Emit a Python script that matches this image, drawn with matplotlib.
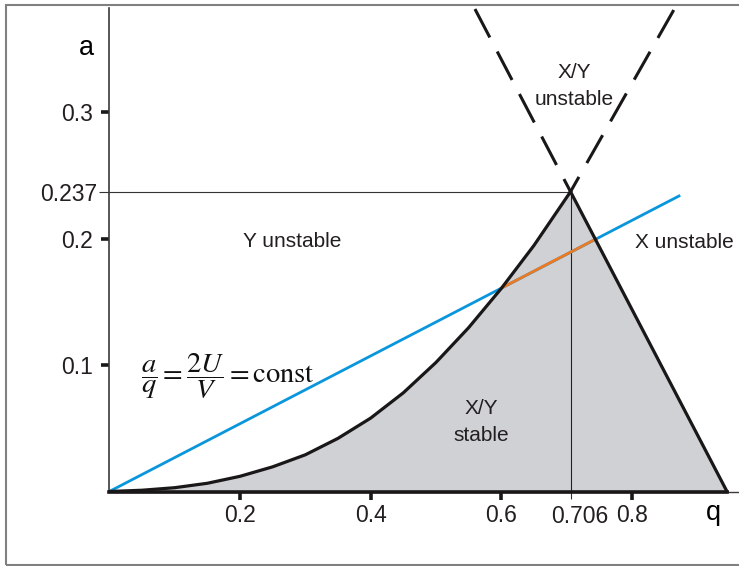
import matplotlib
matplotlib.use("Agg")
import matplotlib.pyplot as plt
from matplotlib.patches import Rectangle
from matplotlib.transforms import ScaledTranslation

plt.rcParams["font.family"] = ["Liberation Sans", "DejaVu Sans"]
plt.rcParams["text.color"] = "#231f20"

# lower boundary of the stability region (q, a), origin up to the apex
curve_q = [0.0, 0.05, 0.10, 0.15, 0.20, 0.25, 0.30, 0.35, 0.40,
           0.45, 0.50, 0.55, 0.60, 0.65, 0.706]
curve_a = [0.0, 0.001, 0.003, 0.0065, 0.012, 0.0195, 0.029, 0.042, 0.058,
           0.078, 0.102, 0.1295, 0.1605, 0.1945, 0.237]
apex_q, apex_a = 0.706, 0.237
q_end = 0.9455  # right boundary meets a = 0

# dashed continuations above the apex
dash_left_q = [0.5597, apex_q]
dash_left_a = [0.3814, apex_a]
dash_right_q = [0.864, apex_q]
dash_right_a = [0.3806, apex_a]

# operating line a/q = const, and the part inside the stable region
line_q = [0.0, 0.872]
line_a = [0.0, 0.2336]
stable_q = [0.600, 0.744]
stable_a = [0.1608, 0.1994]

xticks = [0.2, 0.4, 0.6, 0.8]
yticks = [0.1, 0.2, 0.3]

fig = plt.figure(figsize=(7.39, 5.66), dpi=100)
W, H = 739, 566
x0, y0 = 109.3, 491.5
sx, sy = 653.3, 1265.0
xmax, ymax = 0.963, 0.382
ax = fig.add_axes([x0 / W, (H - y0) / H, xmax * sx / W, ymax * sy / H])
ax.set_xlim(0, xmax)
ax.set_ylim(0, ymax)

# frame around the figure
fig.add_artist(Rectangle((6 / W, 1 - 565 / H), 1.2, (565 - 5) / H,
                         transform=fig.transFigure, fill=False,
                         ec="#808080", lw=1.5))

for s in ["top", "right"]:
    ax.spines[s].set_visible(False)
ax.spines["left"].set_color("#3a3a3a")
ax.spines["left"].set_linewidth(1.2)
ax.spines["bottom"].set_color("#3a3a3a")
ax.spines["bottom"].set_linewidth(1.0)

black = "#1a1718"
region_q = curve_q + [q_end]
region_a = curve_a + [0.0]
ax.fill(region_q, region_a, color="#d0d1d5", lw=0, zorder=1)
ax.plot(curve_q, curve_a, color=black, lw=2.3, zorder=4,
        solid_joinstyle="round")
ax.plot([apex_q, q_end], [apex_a, 0.0], color=black, lw=2.3, zorder=4)
ax.plot([0.0, q_end], [0.0, 0.0], color=black, lw=2.6, zorder=4, clip_on=False)

ax.plot(dash_left_q, dash_left_a, color=black, lw=2.2,
        linestyle=(0, (10.5, 5.2)), zorder=4)
ax.plot(dash_right_q, dash_right_a, color=black, lw=2.2,
        linestyle=(0, (10.5, 5.2)), zorder=4)

# guide lines to the apex
ax.plot([0.0, apex_q], [apex_a, apex_a], color="#333", lw=0.8, zorder=2)
ax.plot([apex_q, apex_q], [0.0, apex_a], color="#222", lw=0.8, zorder=2)

ax.plot(line_q, line_a, color="#0a96dc", lw=2.0, zorder=3)
ax.plot(stable_q, stable_a, color="#ec7a22", lw=2.0, zorder=3)

fs_tick = 16.5
fs = 15
ax.set_xticks(xticks, [f"{v:g}" for v in xticks])
ax.set_yticks(yticks, [f"{v:g}" for v in yticks])
ax.set_xticks([apex_q], ["0.706"], minor=True)
ax.set_yticks([apex_a], ["0.237"], minor=True)
ax.tick_params(which="major", length=5.8, width=2.6, color=black,
               labelsize=fs_tick, labelcolor="#231f20")
ax.tick_params(axis="x", which="major", pad=3)
ax.tick_params(axis="y", which="major", pad=6)
ax.tick_params(which="minor", length=5, width=0.8, color="#333",
               labelsize=fs_tick, labelcolor="#231f20")
ax.tick_params(axis="x", which="minor", pad=5)
ax.tick_params(axis="y", which="minor", pad=2, length=7)
for lab in ax.get_xticklabels(minor=True):
    lab.set_transform(lab.get_transform() + ScaledTranslation(6.5 / 72, 0, fig.dpi_scale_trans))

ax.set_ylabel("a", rotation=0, fontsize=19.5, ha="center", va="center")
ax.yaxis.set_label_coords(-0.037, 0.918)
ax.set_xlabel("q", fontsize=19.5, ha="center", va="center")
ax.xaxis.set_label_coords(0.961, -0.045)

ax.text(0.2797, 0.198, "Y unstable", fontsize=fs, ha="center", va="center")
ax.text(0.881, 0.197, "X unstable", fontsize=fs, ha="center", va="center")
ax.text(0.711, 0.3206, "X/Y\nunstable", fontsize=fs, ha="center", va="center",
        linespacing=1.55)
ax.text(0.569, 0.0549, "X/Y\nstable", fontsize=fs, ha="center", va="center",
        linespacing=1.55)
ax.text(0.181, 0.0913, r"$\dfrac{a}{q} = \dfrac{2U}{V} = \mathrm{const}$",
        fontsize=20.5, ha="center", va="center", math_fontfamily="stix",
        color="#111")

fig.savefig("out.png", dpi=100)
